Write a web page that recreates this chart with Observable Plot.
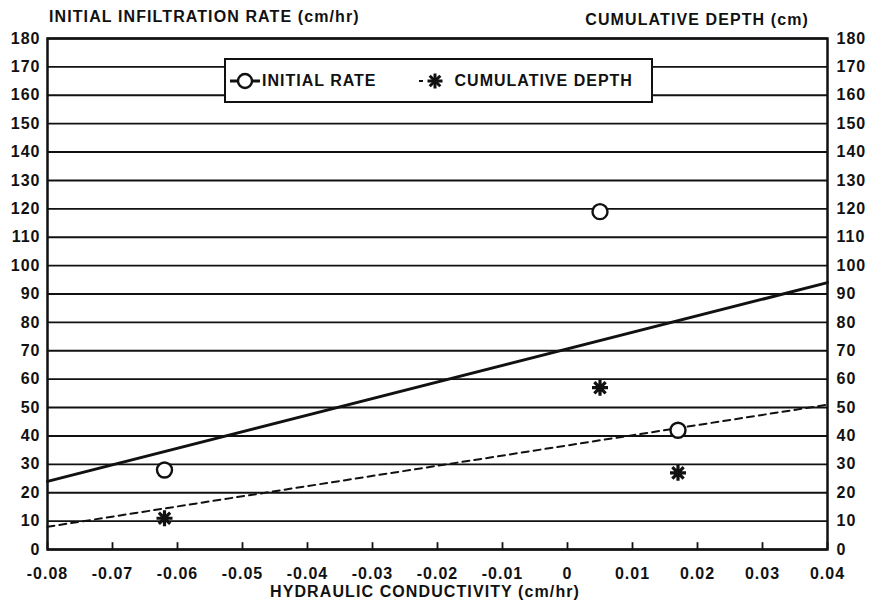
<!DOCTYPE html>
<html><head><meta charset="utf-8">
<script src="https://cdn.jsdelivr.net/npm/d3@7"></script>
<script src="https://cdn.jsdelivr.net/npm/@observablehq/plot@0.6"></script>
<style>
body{margin:0;background:#fff;}
#wrap{position:relative;width:877px;height:604px;font-family:"Liberation Sans",Arial,sans-serif;font-weight:bold;color:#111;}
.lbl{position:absolute;font-size:16px;white-space:nowrap;letter-spacing:1.1px;}
#legend{position:absolute;left:224px;top:58px;width:425px;height:41px;border:2.5px solid #111;background:#fff;display:flex;align-items:center;font-size:16px;letter-spacing:1px;}
svg text{letter-spacing:1px;}
</style></head>
<body><div id="wrap"></div>
<script>
// Data
const xTicks = [-0.08,-0.07,-0.06,-0.05,-0.04,-0.03,-0.02,-0.01,0,0.01,0.02,0.03,0.04];
const yTicks = [0,10,20,30,40,50,60,70,80,90,100,110,120,130,140,150,160,170,180];
const conductivity = [-0.062, 0.005, 0.017];
const initialRate = [28, 119, 42];
const cumulativeDepth = [11, 57, 27];
const lineX = [-0.08, 0.04];
const rateFit = [24, 94];
const depthFit = [8, 51];

const rateTable = conductivity.map((x,i)=>({x, y: initialRate[i]}));
const depthTable = conductivity.map((x,i)=>({x, y: cumulativeDepth[i]}));
const rateLine = lineX.map((x,i)=>({x, y: rateFit[i]}));
const depthLine = lineX.map((x,i)=>({x, y: depthFit[i]}));

const fmt = d => d === 0 ? "0" : d.toFixed(2);

// eight-armed asterisk symbol
const star8 = {
  draw(ctx, size) {
    const r = Math.sqrt(size / Math.PI);
    for (let k = 0; k < 4; k++) {
      const a = k * Math.PI / 4;
      ctx.moveTo(r * Math.cos(a), r * Math.sin(a));
      ctx.lineTo(-r * Math.cos(a), -r * Math.sin(a));
    }
  }
};

const chart = Plot.plot({
  width: 877, height: 604,
  marginLeft: 47, marginRight: 50, marginTop: 38, marginBottom: 55,
  style: {fontFamily: '"Liberation Sans", Arial, sans-serif', fontWeight: "bold", fontSize: "16px", color: "#111", background: "#fff"},
  x: {domain: [-0.08, 0.04], ticks: xTicks, tickFormat: fmt},
  y: {domain: [0, 180], ticks: yTicks},
  marks: [
    Plot.ruleY(yTicks, {stroke: "#111", strokeWidth: 1.9}),
    Plot.ruleX(xTicks, {y1: 0, y2: 2.4, stroke: "#111", strokeWidth: 1.8}),
    Plot.frame({stroke: "#111", strokeWidth: 2.5}),
    Plot.axisX({ticks: xTicks, tickFormat: fmt, tickSize: 0, tickPadding: 18, label: null, fontSize: 16}),
    Plot.axisY({ticks: yTicks, tickSize: 0, tickPadding: 7, label: null, fontSize: 16}),
    Plot.axisY({ticks: yTicks, anchor: "right", tickSize: 0, tickPadding: 9, label: null, fontSize: 16}),
    Plot.line(rateLine, {x: "x", y: "y", stroke: "#111", strokeWidth: 3}),
    Plot.line(depthLine, {x: "x", y: "y", stroke: "#111", strokeWidth: 2, strokeDasharray: "7,5"}),
    Plot.dot(rateTable, {x: "x", y: "y", r: 7.5, stroke: "#111", strokeWidth: 2.4, fill: "#fff"}),
    Plot.dot(depthTable, {x: "x", y: "y", r: 8, symbol: star8, stroke: "#111", strokeWidth: 3.2})
  ]
});
const wrap = document.getElementById("wrap");
wrap.appendChild(chart);

function addLabel(text, css){
  const d = document.createElement("div");
  d.className = "lbl"; d.textContent = text;
  Object.assign(d.style, css);
  wrap.appendChild(d);
}
addLabel("INITIAL INFILTRATION RATE (cm/hr)", {left: "49px", top: "8px"});
addLabel("CUMULATIVE DEPTH (cm)", {right: "68px", top: "11px"});
addLabel("HYDRAULIC CONDUCTIVITY (cm/hr)", {left: "270px", top: "583px"});

const lg = document.createElement("div");
lg.id = "legend";
lg.innerHTML = `
<svg width="34" height="20" style="margin-left:2px"><line x1="2" y1="10" x2="32" y2="10" stroke="#111" stroke-width="3"/><circle cx="17" cy="10" r="7" fill="#fff" stroke="#111" stroke-width="2.4"/></svg>
<span style="margin-left:0px">INITIAL RATE</span>
<svg width="36" height="20" style="margin-left:40px"><line x1="2" y1="10" x2="6" y2="10" stroke="#111" stroke-width="2"/><g transform="translate(18,10)" stroke="#111" stroke-width="3"><line x1="0" y1="-7.5" x2="0" y2="7.5"/><line x1="-7.5" y1="0" x2="7.5" y2="0"/><line x1="-5.3" y1="-5.3" x2="5.3" y2="5.3"/><line x1="-5.3" y1="5.3" x2="5.3" y2="-5.3"/></g></svg>
<span style="margin-left:2px">CUMULATIVE DEPTH</span>`;
wrap.appendChild(lg);
</script></body></html>
